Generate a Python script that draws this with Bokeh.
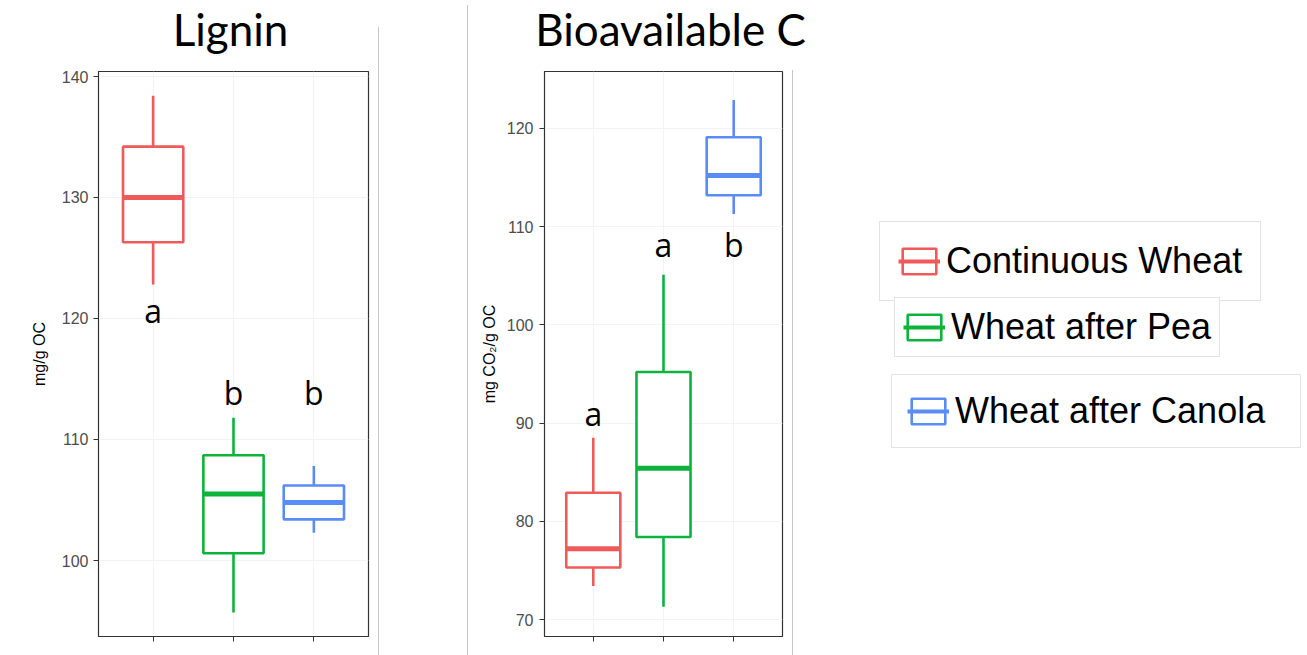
from bokeh.plotting import figure
from bokeh.models import (ColumnDataSource, FactorRange, Range1d, Legend, LegendItem,
                          SingleIntervalTicker, Label, Spacer)
from bokeh.layouts import row, column
from bokeh.transform import dodge
from bokeh.embed import file_html
from bokeh.resources import INLINE
from bokeh.core.properties import value

# ---------------- data ----------------
categories = ["Continuous Wheat", "Wheat after Pea", "Wheat after Canola"]
colors = ["#F05A5A", "#0DB33A", "#5A8CF5"]

lignin_low = [122.8, 95.7, 102.3]
lignin_q1 = [126.3, 100.6, 103.4]
lignin_median = [130.0, 105.5, 104.8]
lignin_q3 = [134.2, 108.7, 106.2]
lignin_high = [138.4, 111.8, 107.8]
lignin_letters = ["a", "b", "b"]
lignin_letter_y = [120.7, 113.9, 113.9]

bio_low = [73.4, 71.3, 111.3]
bio_q1 = [75.3, 78.4, 113.2]
bio_median = [77.2, 85.4, 115.2]
bio_q3 = [82.9, 95.2, 119.1]
bio_high = [88.5, 105.1, 122.9]
bio_letters = ["a", "a", "b"]
bio_letter_y = [91.0, 108.2, 108.2]

panel_titles = ["Lignin", "Bioavailable C"]

AXIS_FONT = "Liberation Sans"
TITLE_FONT = "Lato"
EDGE = "#c6c6c6"
TITLE_H = 70
PLOT_H = 585
W1, GAP, W2, W3 = 378, 88, 324, 512
B1 = (98, 10)      # left / right borders of panel 1
B2 = (76, 10)      # left / right borders of panel 2
TOP, BOTTOM = 1, 19


def vline(height):
    return Spacer(width=1, height=height, styles={"background-color": EDGE})


def title_strip(text, width, x_center):
    t = figure(width=width, height=TITLE_H, output_backend="svg", toolbar_location=None,
               x_axis_location=None, y_axis_location=None, outline_line_color=None,
               min_border=0)
    t.add_layout(Label(x=x_center, y=42, x_units="screen", y_units="screen", text=text,
                       text_align="center", text_baseline="alphabetic",
                       text_font=TITLE_FONT, text_font_size="44px", text_color="black"))
    return t


def make_panel(ylabel, src, y_range, pad, box_w, width, borders, tick_std, label_std):
    p = figure(x_range=FactorRange(*categories, range_padding=pad,
                                   range_padding_units="absolute"),
               y_range=Range1d(*y_range), width=width, height=PLOT_H,
               output_backend="svg", toolbar_location=None,
               min_border_left=borders[0], min_border_right=borders[1],
               min_border_top=TOP, min_border_bottom=BOTTOM)

    p.segment(x0="cat", y0="q3", x1="cat", y1="high", line_color="color",
              line_width=2.6, source=src)
    p.segment(x0="cat", y0="low", x1="cat", y1="q1", line_color="color",
              line_width=2.6, source=src)
    p.vbar(x="cat", width=box_w, bottom="q1", top="q3", fill_color="white",
           line_color="color", line_width=2.6, source=src)
    p.segment(x0=dodge("cat", -box_w / 2, range=p.x_range), y0="med",
              x1=dodge("cat", box_w / 2, range=p.x_range), y1="med",
              line_color="color", line_width=5, source=src)
    p.text(x="cat", y="ly", text="letter", text_font=value("Open Sans"),
           text_font_size="32px", text_align="center", text_baseline="alphabetic",
           text_color="black", source=src)

    p.outline_line_color = "#333333"
    p.outline_line_width = 1.2
    p.xgrid.grid_line_color = "#f3f3f3"
    p.ygrid.grid_line_color = "#f3f3f3"

    p.yaxis.ticker = SingleIntervalTicker(interval=10, num_minor_ticks=0)
    p.yaxis.axis_label = ylabel
    p.yaxis.axis_label_text_font = AXIS_FONT
    p.yaxis.axis_label_text_font_size = "16px"
    p.yaxis.axis_label_text_font_style = "normal"
    p.yaxis.axis_label_text_color = "black"
    p.yaxis.axis_label_standoff = label_std
    p.yaxis.major_label_text_font = AXIS_FONT
    p.yaxis.major_label_text_font_size = "16px"
    p.yaxis.major_label_text_color = "#4d4d4d"
    p.yaxis.major_label_standoff = tick_std
    p.yaxis.major_tick_out = 5
    p.yaxis.major_tick_in = 0
    p.yaxis.axis_line_color = "#333333"
    p.yaxis.major_tick_line_color = "#333333"

    p.xaxis.major_label_text_color = None
    p.xaxis.major_label_text_font_size = "10px"
    p.xaxis.major_label_standoff = 0
    p.xaxis.major_tick_out = 5
    p.xaxis.major_tick_in = 0
    p.xaxis.axis_line_color = "#333333"
    p.xaxis.major_tick_line_color = "#333333"
    return p


lig_src = ColumnDataSource(dict(cat=categories, color=colors, low=lignin_low,
                                q1=lignin_q1, med=lignin_median, q3=lignin_q3,
                                high=lignin_high, letter=lignin_letters,
                                ly=lignin_letter_y))
bio_src = ColumnDataSource(dict(cat=categories, color=colors, low=bio_low,
                                q1=bio_q1, med=bio_median, q3=bio_q3,
                                high=bio_high, letter=bio_letters, ly=bio_letter_y))

T2_LEFT = W1 + 1 + GAP + 1
t1 = title_strip(panel_titles[0], W1, 230)
t2 = title_strip(panel_titles[1], W2 + W3 + 1, 670 - T2_LEFT)

p1 = make_panel("mg/g OC", lig_src, (93.72, 140.41), 0.18, 0.75, W1, B1,
                tick_std=5, label_std=11)
p2 = make_panel("mg CO\u2082/g OC", bio_src, (68.27, 125.8), 0.195, 0.77, W2, B2,
                tick_std=6, label_std=6)

# ---------------- legend panel ----------------
p3 = figure(x_range=FactorRange(*categories), y_range=Range1d(0, 1), width=W3,
            height=PLOT_H, output_backend="svg", toolbar_location=None,
            x_axis_location=None, y_axis_location=None, outline_line_color=None,
            min_border_left=0, min_border_right=0,
            min_border_top=TOP, min_border_bottom=BOTTOM)
p3.grid.visible = False
leg_box = p3.vbar(x="cat", width=0.75, bottom="q1", top="q3", fill_color="white",
                  line_color="color", line_width=2.6, source=bio_src, visible=False)
leg_med = p3.segment(x0=dodge("cat", -0.375, range=p3.x_range), y0="med",
                     x1=dodge("cat", 0.375, range=p3.x_range), y1="med",
                     line_color="color", line_width=4, source=bio_src, visible=False)

legend_specs = [
    # (location relative to frame bottom-left, padding, label_width)
    ((86, 335), 18, 290),
    ((101, 279), 8, 258),
    ((98, 188), 15, 330),
]
for i, (loc, pad, lw) in enumerate(legend_specs):
    lg = Legend(items=[LegendItem(label=categories[i], renderers=[leg_box, leg_med],
                                  index=i)],
                location=loc, padding=pad, margin=0, label_width=lw,
                glyph_width=42, glyph_height=32, label_standoff=6, spacing=0,
                click_policy="none",
                label_text_font=AXIS_FONT, label_text_font_size="36px",
                label_text_color="black", border_line_color="#c8c8c8",
                border_line_width=1.2, background_fill_color="white",
                background_fill_alpha=1.0)
    p3.add_layout(lg)

title_row = row(t1, column(Spacer(width=1, height=27), vline(TITLE_H - 27)),
                Spacer(width=GAP, height=TITLE_H),
                column(Spacer(width=1, height=5), vline(TITLE_H - 5)), t2)
plot_row = row(p1, vline(PLOT_H), Spacer(width=GAP, height=PLOT_H), vline(PLOT_H),
               p2, vline(PLOT_H), p3)
layout = column(title_row, plot_row)
open("out.html", "w").write(file_html(layout, INLINE))
